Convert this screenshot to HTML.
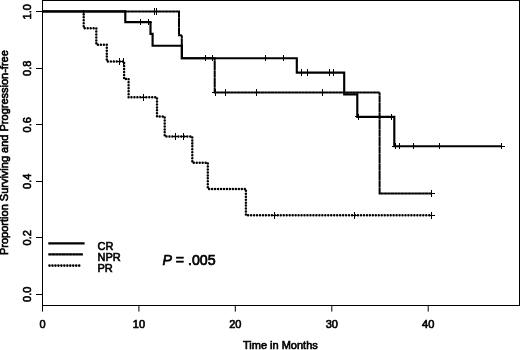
<!DOCTYPE html>
<html>
<head>
<meta charset="utf-8">
<title>Kaplan-Meier: Proportion Surviving and Progression-free</title>
<style>
  html, body { margin: 0; padding: 0; background: #fff; }
  body { width: 520px; height: 350px; overflow: hidden; }
  svg { display: block; filter: grayscale(1); }
  text { font-family: "Liberation Sans", Arial, Helvetica, sans-serif; fill: #000; }
  .lbl { font-size: 11px; stroke: #000; stroke-width: 0.65px; }
  .leg { font-size: 11px; stroke: #000; stroke-width: 0.6px; }
  .p   { font-size: 14.2px; stroke: #000; stroke-width: 0.7px; }
</style>
</head>
<body>
<svg width="520" height="350" viewBox="0 0 520 350">
  <rect x="0" y="0" width="520" height="350" fill="#fff"/>

  <!-- plot frame and axis ticks -->
  <g fill="none" stroke="#000" stroke-width="1" shape-rendering="crispEdges">
    <rect x="42.5" y="0.5" width="477" height="305"/>
    <path d="M35.5 11.5H42.5 M35.5 68H42.5 M35.5 124.5H42.5 M35.5 181H42.5 M35.5 237.5H42.5 M35.5 294H42.5"/>
  </g>
  <path d="M42.5 305.5V311.6 M138.9 305.5V311.6 M235.3 305.5V311.6 M331.8 305.5V311.6 M428.2 305.5V311.6" fill="none" stroke="#000" stroke-width="1"/>

  <!-- PR curve (dotted) -->
  <path id="pr" fill="none" stroke="#000" stroke-width="2.5" stroke-linecap="round" stroke-dasharray="0.01 2.96" d="M83.7 11.4V28.2H96.3V44.7H106.8V61.5H124.1V79H128.6V97.3H157V116.6H164.7V136.5H192.3V162.7H207.8V188.9H245.9V215.3H431.8"/>
  <!-- NPR curve (long dash) -->
  <path id="npr" fill="none" stroke="#000" stroke-width="2" stroke-dasharray="3.3 0.1" d="M42.5 11.4H179V35.2H181.8V58.3H214.7V92.4H379.6V193.6H431.8"/>
  <!-- CR curve (solid) -->
  <path id="cr" fill="none" stroke="#000" stroke-width="2.15" d="M42.5 11.4H125.3V22.1H150.5V33.9H152.6V45.7H181.9V58.2H296.8V72.6H344.2V94.3H357.3V116.8H394.3V146.2H501.8"/>

  <!-- censoring marks -->
  <g fill="none" stroke="#000" stroke-width="1" shape-rendering="crispEdges">
    <path d="M140.8 18.9v6.4 M137.6 22.1h6.4 M148.7 18.9v6.4 M145.5 22.1h6.4 M205.9 55v6.4 M202.7 58.2h6.4 M212.9 55v6.4 M209.7 58.2h6.4 M265.1 55v6.4 M261.9 58.2h6.4 M283.9 55v6.4 M280.7 58.2h6.4 M301.5 69.4v6.4 M298.3 72.6h6.4 M307.3 69.4v6.4 M304.1 72.6h6.4 M329.2 69.4v6.4 M326 72.6h6.4 M333 69.4v6.4 M329.8 72.6h6.4 M358.6 113.6v6.4 M355.4 116.8h6.4 M391.7 113.6v6.4 M388.5 116.8h6.4 M395.6 143v6.4 M392.4 146.2h6.4 M399.2 143v6.4 M396 146.2h6.4 M413.2 143v6.4 M410 146.2h6.4 M439 143v6.4 M435.8 146.2h6.4 M501.8 143v6.4 M498.6 146.2h6.4"/>
    <path d="M154.5 8.2v6.4 M151.3 11.4h6.4 M156.6 8.2v6.4 M153.4 11.4h6.4 M215 89.2v6.4 M211.8 92.4h6.4 M225.5 89.2v6.4 M222.3 92.4h6.4 M256.7 89.2v6.4 M253.5 92.4h6.4 M322.9 89.2v6.4 M319.7 92.4h6.4 M431.8 190.4v6.4 M428.6 193.6h6.4"/>
    <path d="M119.2 58.3v6.4 M116 61.5h6.4 M123.6 58.3v6.4 M143.4 94.1v6.4 M140.2 97.3h6.4 M175.3 133.3v6.4 M172.1 136.5h6.4 M183.4 133.3v6.4 M180.2 136.5h6.4 M274.3 212.1v6.4 M271.1 215.3h6.4 M354 212.1v6.4 M350.8 215.3h6.4 M431.8 212.1v6.4 M428.6 215.3h6.4"/>
  </g>

  <!-- legend -->
  <g fill="none" stroke="#000">
    <path d="M48.3 243.4H84.6" stroke-width="2.2"/>
    <path d="M48.3 254.4H83" stroke-width="2.1" stroke-dasharray="3.3 0.1"/>
    <path d="M49.5 265.6H82" stroke-width="2.6" stroke-linecap="round" stroke-dasharray="0.01 2.96"/>
  </g>
  <text class="leg" x="97.5" y="249.6">CR</text>
  <text class="leg" x="97.5" y="260.6">NPR</text>
  <text class="leg" x="97.5" y="271.6">PR</text>

  <!-- P value -->
  <text class="p" x="162.4" y="265.3"><tspan font-style="italic">P</tspan> = .005</text>

  <!-- y tick labels (rotated) -->
  <g class="lbl" text-anchor="middle">
    <text transform="translate(30.5 11.8) rotate(-90)">1.0</text>
    <text transform="translate(30.5 68.3) rotate(-90)">0.8</text>
    <text transform="translate(30.5 124.8) rotate(-90)">0.6</text>
    <text transform="translate(30.5 181.3) rotate(-90)">0.4</text>
    <text transform="translate(30.5 237.8) rotate(-90)">0.2</text>
    <text transform="translate(30.5 294.3) rotate(-90)">0.0</text>
  </g>
  <!-- y axis title -->
  <text class="lbl" text-anchor="middle" transform="translate(8.2 152.6) rotate(-90)">Proportion Surviving and Progression-free</text>

  <!-- x tick labels -->
  <g class="lbl" text-anchor="middle">
    <text x="42.5" y="327.5">0</text>
    <text x="138.9" y="327.5">10</text>
    <text x="235.3" y="327.5">20</text>
    <text x="331.8" y="327.5">30</text>
    <text x="428.2" y="327.5">40</text>
  </g>
  <!-- x axis title -->
  <text class="lbl" text-anchor="middle" x="280.4" y="349.4">Time in Months</text>
</svg>
</body>
</html>
